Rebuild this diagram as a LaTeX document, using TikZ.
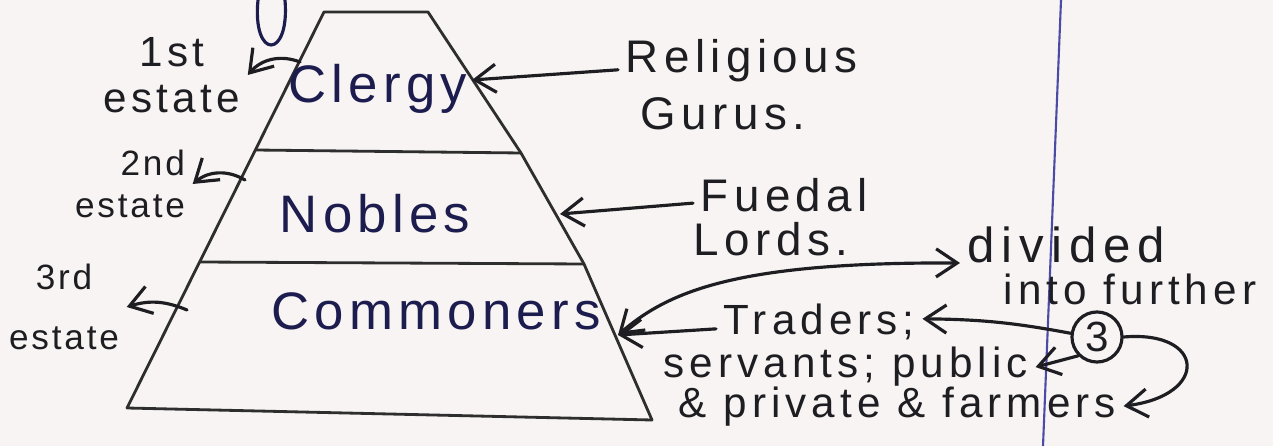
\documentclass[tikz,border=0pt]{standalone}
\usepackage{fontspec}
\setmainfont{Liberation Sans}
\usetikzlibrary{arrows.meta}
\definecolor{paper}{HTML}{F7F4F3}
\definecolor{ink-dark}{HTML}{1E1E22}
\definecolor{ink-navy}{HTML}{1C1C4E}
\definecolor{ink-gray}{HTML}{2E2E2E}
\definecolor{rule-blue}{HTML}{4B4BA6}

\begin{document}
\begin{tikzpicture}[
    x=0.01cm, y=-0.01cm,
    pen/.style={line width=0.9pt, ink-dark, line cap=round, line join=round},
    edge/.style={line width=0.8pt, ink-gray, line join=round},
    arr/.style={pen, -{Straight Barb[length=6pt, width=8pt]}},
    dbl/.style={pen, {Straight Barb[length=6pt, width=8pt]}-{Straight Barb[length=6pt, width=8pt]}},
    layer/.style={anchor=base, text=ink-navy, inner sep=2pt,
                  font=\fontsize{15}{18}\selectfont\addfontfeature{LetterSpace=10}},
    note/.style={anchor=base west, text=ink-dark, inner sep=2pt,
                 font=\fontsize{13}{16}\selectfont\addfontfeature{LetterSpace=12}},
    small/.style={anchor=base west, text=ink-dark, inner sep=2pt,
                  font=\fontsize{12}{14}\selectfont\addfontfeature{LetterSpace=12}},
    estlbl/.style={align=center, text=ink-dark, inner sep=2pt,
                   font=\fontsize{10}{12}\selectfont\addfontfeature{LetterSpace=8}},
]
    \useasboundingbox (0,0) rectangle (1273,446);
    \fill[paper] (0,0) rectangle (1273,446);

    % Notebook margin
    \draw[rule-blue, line width=0.6pt] (1061,0) -- (1043,446);

    % Pyramid outline
    \coordinate (tl) at (324,12);
    \coordinate (tr) at (428,12);
    \coordinate (r1) at (521,153);
    \coordinate (r2) at (584,264);
    \coordinate (br) at (652,420);
    \coordinate (bl) at (127,408);
    \coordinate (l1) at (255,150);
    \coordinate (l2) at (200,262);
    \draw[edge] (tl) -- (tr) -- (r1) -- (r2) -- (br) -- (bl) -- cycle;
    \draw[edge] (l1) -- (r1);
    \draw[edge] (l2) -- (r2);

    % stray loop from the line above
    \draw[pen, ink-navy] (258,0) .. controls (252,60) and (290,60) .. (285,0);

    % Layers
    \node[layer] (clergy) at (378,103) {Clergy};
    \node[layer] (nobles) at (375,233) {Nobles};
    \node[layer] (commoners) at (436,330) {Commoners};

    % Estates
    \node[estlbl, font=\fontsize{12}{13}\selectfont\addfontfeature{LetterSpace=10}]
        (est1) at (172,75) {1st\\estate};
    \node[estlbl, align=right] (est2) at (130,184) {2nd\\estate};
    \node[estlbl] (est3) at (64,307) {3rd\\[5pt]estate};
    \coordinate (e1) at (300,62);
    \coordinate (e2) at (245,180);
    \coordinate (e3) at (187,310);
    \draw[arr] (e1) to[bend right=35] (est1.east);
    \draw[arr] (e2) to[bend right=35] (est2.east);
    \draw[arr] (e3) to[bend right=20] (est3.east);

    % Right side notes
    \node[note] (relig) at (618,73) {Religious};
    \node[note] (gurus) at (633,130) {Gurus.};
    \node[note] (fuedal) at (693,212) {Fuedal};
    \node[note] (lords) at (686,256) {Lords.};
    \coordinate (c1) at (472,80);
    \coordinate (n1) at (560,214);
    \coordinate (m1) at (618,335);
    \draw[arr] (relig) -- (c1);
    \draw[arr] (fuedal) -- (n1);

    % Commoners split
    \node[note, font=\fontsize{14}{16}\selectfont\addfontfeature{LetterSpace=14}]
        (divided) at (960,263) {divided};
    \node[small] (further) at (996,305) {into further};
    \node[small] (traders) at (716,335) {Traders;};
    \node[small] (servants) at (656,378) {servants; public};
    \node[small] (farmers) at (671,417) {\& private \& farmers};
    \node[circle, draw, pen, minimum size=0.5cm, inner sep=0pt,
          font=\fontsize{12}{14}\selectfont] (three) at (1097,337) {3};

    \draw[arr] (traders) -- (m1);
    \draw[dbl] (divided.base west) .. controls (740,262) and (670,290) .. (m1);
    \draw[arr] (three) to[bend right=5] (traders);
    \draw[arr] (three.225) -- (servants.east);
    \draw[arr] (three.east) .. controls (1205,330) and (1210,395) .. (farmers.east);
\end{tikzpicture}
\end{document}
